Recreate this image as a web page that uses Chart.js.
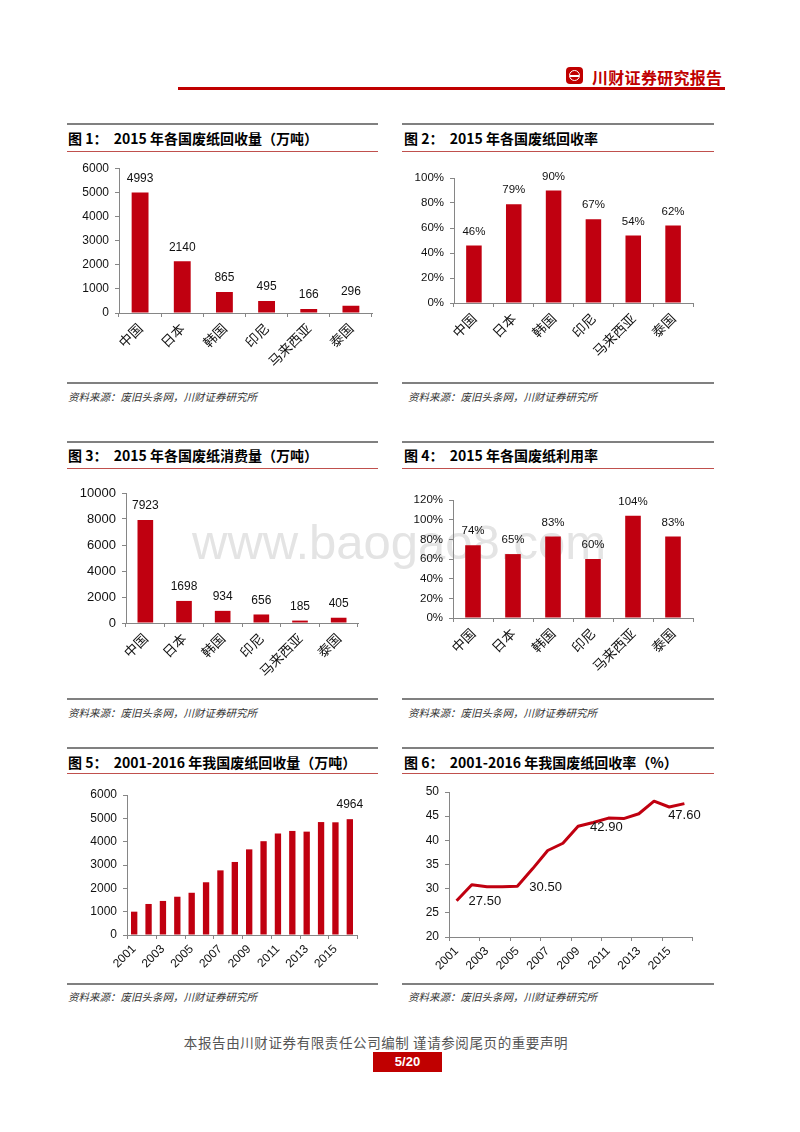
<!DOCTYPE html>
<html><head><meta charset="utf-8">
<script src="https://cdn.jsdelivr.net/npm/chart.js@4.4.1/dist/chart.umd.min.js"></script>
<style>
html,body{margin:0;padding:0;background:#fff;}
body{width:800px;height:1132px;position:relative;overflow:hidden;font-family:"Noto Sans CJK SC","Liberation Sans",sans-serif;}
.line{position:absolute;}
canvas{position:absolute;}
.title{position:absolute;font-weight:bold;font-size:14px;color:#000;white-space:pre;line-height:16px;}
.src{position:absolute;font-style:italic;font-size:10.5px;color:#333;white-space:pre;line-height:12px;}
.wm{position:absolute;left:192px;top:512px;font-family:"Liberation Sans",sans-serif;font-size:49px;color:#e4e4e4;white-space:nowrap;line-height:60px;}
</style></head><body>

<!-- header -->
<div style="position:absolute;left:566px;top:67px;width:17px;height:17px;background:#C00000;border-radius:4px;"></div>
<div style="position:absolute;left:569px;top:70px;width:9px;height:9px;border:1.5px solid #fff;border-radius:50%;"></div>
<div style="position:absolute;left:570px;top:75px;width:9px;height:1.5px;background:#fff;"></div>
<div style="position:absolute;left:592px;top:67px;font-size:16px;font-weight:bold;color:#C00000;white-space:nowrap;line-height:20px;letter-spacing:0.3px;">川财证券研究报告</div>
<div class="line" style="left:178px;top:87px;width:547px;height:3px;background:#C00000;"></div>

<div class="wm">www.baogao8.com</div>

<!-- panel frames -->
<div class="line" style="left:67px;top:123px;width:311px;height:2px;background:#808080;"></div>
<div class="line" style="left:402px;top:123px;width:312px;height:2px;background:#808080;"></div>
<div class="title" style="left:68px;top:130px;">图 1：  2015 年各国废纸回收量（万吨）</div>
<div class="title" style="left:404px;top:130px;">图 2：  2015 年各国废纸回收率</div>
<div class="line" style="left:67px;top:151px;width:311px;height:1px;background:#C0504D;"></div>
<div class="line" style="left:402px;top:151px;width:312px;height:1px;background:#C0504D;"></div>
<div class="line" style="left:67px;top:382px;width:311px;height:2px;background:#808080;"></div>
<div class="line" style="left:402px;top:382px;width:312px;height:2px;background:#808080;"></div>
<div class="src" style="left:68px;top:391px;">资料来源：废旧头条网，川财证券研究所</div>
<div class="src" style="left:408px;top:391px;">资料来源：废旧头条网，川财证券研究所</div>

<div class="line" style="left:67px;top:441px;width:311px;height:2px;background:#808080;"></div>
<div class="line" style="left:402px;top:441px;width:312px;height:2px;background:#808080;"></div>
<div class="title" style="left:68px;top:447px;">图 3：  2015 年各国废纸消费量（万吨）</div>
<div class="title" style="left:404px;top:447px;">图 4：  2015 年各国废纸利用率</div>
<div class="line" style="left:67px;top:468px;width:311px;height:1px;background:#C0504D;"></div>
<div class="line" style="left:402px;top:468px;width:312px;height:1px;background:#C0504D;"></div>
<div class="line" style="left:67px;top:698px;width:311px;height:2px;background:#808080;"></div>
<div class="line" style="left:402px;top:698px;width:312px;height:2px;background:#808080;"></div>
<div class="src" style="left:68px;top:707px;">资料来源：废旧头条网，川财证券研究所</div>
<div class="src" style="left:408px;top:707px;">资料来源：废旧头条网，川财证券研究所</div>

<div class="line" style="left:67px;top:747px;width:311px;height:2px;background:#808080;"></div>
<div class="line" style="left:402px;top:747px;width:312px;height:2px;background:#808080;"></div>
<div class="title" style="left:68px;top:754px;">图 5：  2001-2016 年我国废纸回收量（万吨）</div>
<div class="title" style="left:404px;top:754px;">图 6：  2001-2016 年我国废纸回收率（%）</div>
<div class="line" style="left:67px;top:773px;width:311px;height:1px;background:#C0504D;"></div>
<div class="line" style="left:402px;top:773px;width:312px;height:1px;background:#C0504D;"></div>
<div class="line" style="left:67px;top:983px;width:311px;height:2px;background:#808080;"></div>
<div class="line" style="left:402px;top:983px;width:312px;height:2px;background:#808080;"></div>
<div class="src" style="left:68px;top:991px;">资料来源：废旧头条网，川财证券研究所</div>
<div class="src" style="left:408px;top:991px;">资料来源：废旧头条网，川财证券研究所</div>

<!-- footer -->
<div style="position:absolute;left:0;width:752px;top:1034px;text-align:center;font-size:13.5px;color:#555;white-space:nowrap;line-height:16px;letter-spacing:0.6px;">本报告由川财证券有限责任公司编制 谨请参阅尾页的重要声明</div>
<div style="position:absolute;left:373px;top:1052px;width:69px;height:20px;background:#C00000;color:#fff;font-family:'Liberation Sans',sans-serif;font-weight:bold;font-size:13px;line-height:20px;text-align:center;">5/20</div>

<canvas id="c1" width="320" height="225" style="left:62px;top:155px;"></canvas>
<canvas id="c2" width="314" height="225" style="left:402px;top:155px;"></canvas>
<canvas id="c3" width="320" height="225" style="left:62px;top:472px;"></canvas>
<canvas id="c4" width="314" height="225" style="left:402px;top:472px;"></canvas>
<canvas id="c5" width="320" height="205" style="left:62px;top:777px;"></canvas>
<canvas id="c6" width="314" height="205" style="left:402px;top:777px;"></canvas>

<script>
// ---------- data ----------
const countries = ['中国', '日本', '韩国', '印尼', '马来西亚', '泰国'];
const recovery2015 = [4993, 2140, 865, 495, 166, 296];          // 万吨
const recoveryRate2015 = [46, 79, 90, 67, 54, 62];              // %
const consumption2015 = [7923, 1698, 934, 656, 185, 405];       // 万吨
const utilization2015 = [74, 65, 83, 60, 104, 83];              // %
const years = ['2001','2002','2003','2004','2005','2006','2007','2008','2009','2010','2011','2012','2013','2014','2015','2016'];
const chinaRecovery = [1000, 1330, 1460, 1640, 1810, 2260, 2770, 3130, 3670, 4020, 4350, 4460, 4430, 4840, 4830, 4964];
const chinaRecoveryLabelIdx = [15];
const chinaRate = [27.5, 30.8, 30.4, 30.4, 30.5, 34.1, 37.9, 39.4, 42.9, 43.7, 44.6, 44.5, 45.5, 48.1, 46.9, 47.6];
const chinaRateLabelIdx = [0, 4, 8, 15];

// ---------- style ----------
const RED = '#C00010';
const AXIS = '#868686';
const NUMFONT = '"Liberation Sans", Arial, sans-serif';
const CJKFONT = '"Noto Sans CJK SC", sans-serif';
Chart.defaults.font.family = NUMFONT;
Chart.defaults.color = '#111';

const FORMATS = {
  int: v => String(v),
  pct: v => v + '%',
  dec2: v => v.toFixed(2)
};

const valueLabels = {
  id: 'valueLabels',
  afterDatasetsDraw(chart) {
    const o = chart.options.plugins.valueLabels;
    if (!o || !o.show) return;
    const ctx = chart.ctx;
    const meta = chart.getDatasetMeta(0);
    const data = chart.data.datasets[0].data;
    const fmt = FORMATS[o.fmt || 'int'];
    const idx = o.indices ? Array.from(o.indices) : null;
    ctx.save();
    ctx.font = (o.size || 12) + 'px ' + NUMFONT;
    ctx.fillStyle = '#111';
    ctx.textBaseline = 'middle';
    meta.data.forEach((el, i) => {
      if (idx && idx.indexOf(i) < 0) return;
      const txt = fmt(data[i]);
      let x = el.x, y = el.y;
      let pos = o.mode || 'above';
      if (pos === 'rightLastBelow') pos = (i === data.length - 1) ? 'below' : 'right';
      if (pos === 'above') { ctx.textAlign = 'center'; y -= 14; }
      else if (pos === 'right') { ctx.textAlign = 'left'; x += 12; y += 1; }
      else if (pos === 'below') { ctx.textAlign = 'center'; y += 12; }
      ctx.fillText(txt, x, y);
    });
    ctx.restore();
  }
};

// tick marks every 2 categories (Excel style) for year axes
const yearTicks = {
  id: 'yearTicks',
  afterDraw(chart) {
    const o = chart.options.plugins.yearTicks;
    if (!o || !o.show) return;
    const xs = chart.scales.x;
    const n = chart.data.labels.length;
    const half = (xs.getPixelForValue(1) - xs.getPixelForValue(0)) / 2;
    const ctx = chart.ctx;
    ctx.save();
    ctx.strokeStyle = AXIS;
    ctx.lineWidth = 1;
    ctx.beginPath();
    for (let b = 0; b <= n; b += 2) {
      const x = Math.round(xs.getPixelForValue(b) - half) + 0.5;
      ctx.moveTo(x, xs.top);
      ctx.lineTo(x, xs.top + 4);
    }
    ctx.stroke();
    ctx.restore();
  }
};

function make(id, cfg) {
  const {type, labels, data, yw, xh, top, right, ymin, ymax, ystep, ypct, ysize, barPct, catFont, vl, yt, skipOdd} = cfg;
  const ds = type === 'bar'
    ? {data, backgroundColor: RED, borderWidth: 0, barPercentage: barPct, categoryPercentage: 1}
    : {data, borderColor: RED, borderWidth: 3, pointRadius: 0, tension: 0, fill: false, borderJoinStyle: 'round'};
  const xticks = {autoSkip: false, minRotation: 45, maxRotation: 45, padding: 3, font: catFont, color: '#111'};
  if (skipOdd) xticks.callback = function(v, i) { return i % 2 === 0 ? this.getLabelForValue(v) : ''; };
  const yticks = {stepSize: ystep, padding: 6, font: {size: ysize, family: NUMFONT}, color: '#111',
    callback: ypct ? (v => v + '%') : (v => String(v))};
  return new Chart(document.getElementById(id), {
    type,
    data: {labels, datasets: [ds]},
    options: {
      responsive: false, animation: false, devicePixelRatio: 1,
      layout: {padding: {left: 0, right, top, bottom: 0}},
      plugins: {legend: {display: false}, tooltip: {enabled: false}, valueLabels: vl, yearTicks: yt || {show: false}},
      scales: {
        x: {
          offset: true,
          grid: {display: !yt, offset: true, drawOnChartArea: false, drawTicks: true, tickLength: 4, color: AXIS},
          border: {display: true, color: AXIS, width: 1},
          ticks: xticks,
          afterFit: s => { s.height = xh; }
        },
        y: {
          min: ymin, max: ymax,
          grid: {display: true, drawOnChartArea: false, drawTicks: true, tickLength: 4, color: AXIS},
          border: {display: true, color: AXIS, width: 1},
          ticks: yticks,
          afterFit: s => { s.width = yw; }
        }
      }
    },
    plugins: [valueLabels, yearTicks]
  });
}

const cjk = {family: CJKFONT, size: 13.5};
const yrFont = {family: NUMFONT, size: 12};

make('c1', {type: 'bar', labels: countries, data: recovery2015, yw: 57, xh: 67, top: 13, right: 10,
  ymin: 0, ymax: 6000, ystep: 1000, ysize: 12, barPct: 0.40, catFont: cjk,
  vl: {show: true, size: 12, fmt: 'int'}});
make('c2', {type: 'bar', labels: countries, data: recoveryRate2015, yw: 52, xh: 77, top: 23, right: 23,
  ymin: 0, ymax: 100, ystep: 20, ypct: true, ysize: 11.5, barPct: 0.39, catFont: cjk,
  vl: {show: true, size: 11.5, fmt: 'pct'}});
make('c3', {type: 'bar', labels: countries, data: consumption2015, yw: 64, xh: 74, top: 21, right: 24,
  ymin: 0, ymax: 10000, ystep: 2000, ysize: 13, barPct: 0.405, catFont: cjk,
  vl: {show: true, size: 12, fmt: 'int'}});
make('c4', {type: 'bar', labels: countries, data: utilization2015, yw: 51, xh: 79, top: 28, right: 23,
  ymin: 0, ymax: 120, ystep: 20, ypct: true, ysize: 11.5, barPct: 0.39, catFont: cjk,
  vl: {show: true, size: 11.5, fmt: 'pct'}});
make('c5', {type: 'bar', labels: years, data: chinaRecovery, yw: 65, xh: 47, top: 18, right: 25,
  ymin: 0, ymax: 6000, ystep: 1000, ysize: 12, barPct: 0.44, catFont: yrFont, skipOdd: true,
  vl: {show: true, size: 12, fmt: 'int', indices: chinaRecoveryLabelIdx}, yt: {show: true}});
make('c6', {type: 'line', labels: years, data: chinaRate, yw: 47, xh: 45, top: 15, right: 24,
  ymin: 20, ymax: 50, ystep: 5, ysize: 12, catFont: yrFont, skipOdd: true,
  vl: {show: true, size: 13, fmt: 'dec2', indices: chinaRateLabelIdx, mode: 'rightLastBelow'}, yt: {show: true}});
</script>
</body></html>
